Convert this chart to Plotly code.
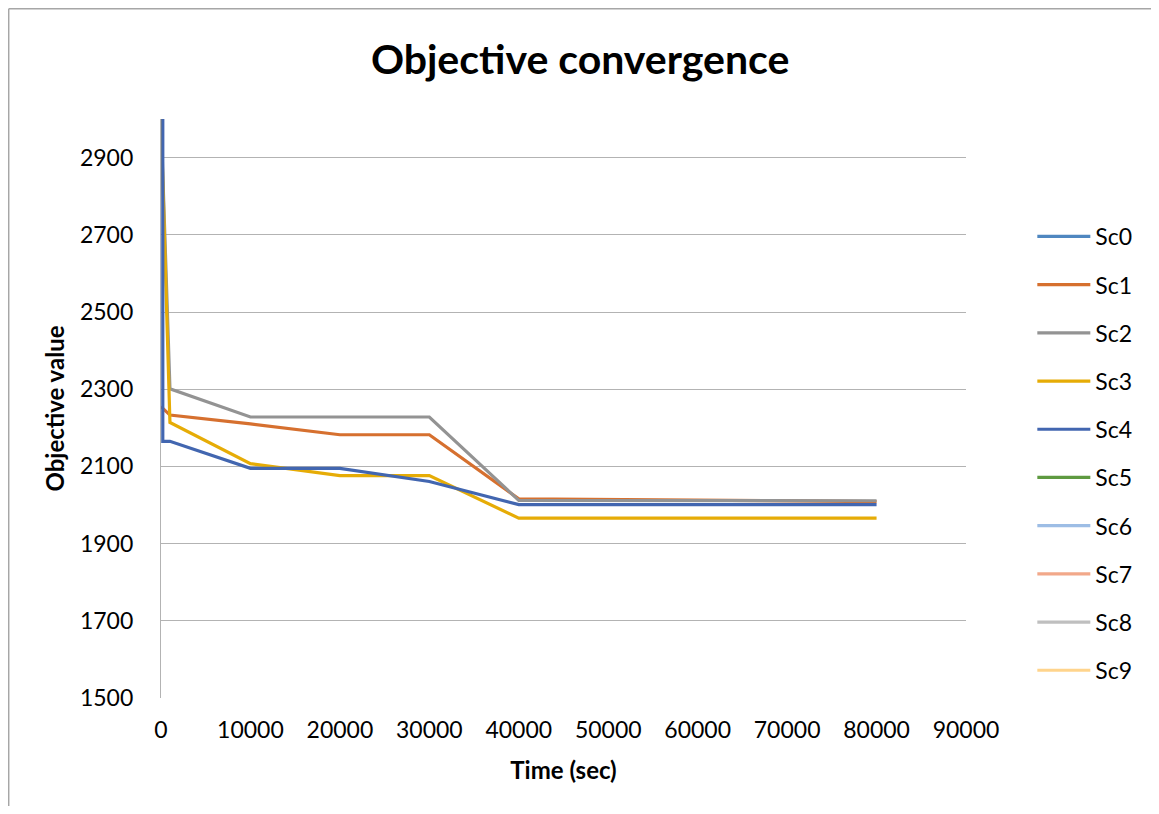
import plotly.graph_objects as go

# ---- data ----
series_names = ["Sc0", "Sc1", "Sc2", "Sc3", "Sc4", "Sc5", "Sc6", "Sc7", "Sc8", "Sc9"]
colors = ["#4f87c0", "#d6702f", "#939393", "#e6ac06", "#4266b0",
          "#5e9a40", "#9dbde5", "#f2a88a", "#bfbfbf", "#ffd48c"]

sc0_x = []
sc0_y = []
sc1_x = [0, 1000, 10000, 20000, 30000, 40000, 80000]
sc1_y = [2255, 2233, 2210, 2182, 2182, 2016, 2009]
sc2_x = [0, 1000, 10000, 20000, 30000, 40000, 80000]
sc2_y = [3000, 2301, 2228, 2228, 2228, 2012, 2011]
sc3_x = [0, 1000, 10000, 20000, 30000, 40000, 80000]
sc3_y = [3000, 2214, 2107, 2076, 2076, 1966, 1966]
sc4_x = [200, 200, 1000, 10000, 20000, 30000, 40000, 80000]
sc4_y = [3000, 2165, 2165, 2095, 2095, 2061, 2001, 2001]
sc5_x, sc5_y = [], []
sc6_x, sc6_y = [], []
sc7_x, sc7_y = [], []
sc8_x, sc8_y = [], []
sc9_x, sc9_y = [], []

xs = [sc0_x, sc1_x, sc2_x, sc3_x, sc4_x, sc5_x, sc6_x, sc7_x, sc8_x, sc9_x]
ys = [sc0_y, sc1_y, sc2_y, sc3_y, sc4_y, sc5_y, sc6_y, sc7_y, sc8_y, sc9_y]

x_ticks = [0, 10000, 20000, 30000, 40000, 50000, 60000, 70000, 80000, 90000]
y_ticks = [1500, 1700, 1900, 2100, 2300, 2500, 2700, 2900]

FONT = "Lato"
W, H = 1143, 798
L, T = 153, 111
PW, PH = 804.7, 579
R = W - L - PW
B = H - T - PH

fig = go.Figure()
for i, name in enumerate(series_names):
    fig.add_trace(go.Scatter(
        x=xs[i] if xs[i] else [None], y=ys[i] if ys[i] else [None],
        mode="lines", name=name, legendgroup=name,
        line=dict(color=colors[i], width=3.2),
    ))

fig.update_layout(
    width=W, height=H,
    paper_bgcolor="white", plot_bgcolor="white",
    margin=dict(l=L, r=R, t=T, b=B, pad=0),
    font=dict(family=FONT, size=23, color="#000000"),
    title=dict(text="<b>Objective convergence</b>", x=(572 - L) / PW, xanchor="center",
               xref="paper", yref="container", y=1 - 52 / H, yanchor="middle",
               font=dict(family=FONT, size=41, color="#000000")),
    xaxis=dict(range=[0, 90000], tickvals=x_ticks, ticktext=[str(v) for v in x_ticks],
               showgrid=False, zeroline=False, showline=False,
               ticks="", tickfont=dict(size=23), ticklabelstandoff=16,
               title=dict(text="<b>Time (sec)</b>", font=dict(size=24), standoff=20)),
    yaxis=dict(range=[1500, 3000], tickvals=y_ticks, ticktext=[str(v) for v in y_ticks],
               showgrid=True, gridcolor="#b3b3b3", gridwidth=1.3,
               zeroline=False, showline=True, linecolor="#b3b3b3", linewidth=1.3,
               ticks="", tickfont=dict(size=23), ticklabelstandoff=22,
               title=dict(text="<b>Objective value</b>", font=dict(size=24), standoff=8)),
    legend=dict(x=(1032 - 8 - L) / PW, xanchor="left", y=(T + PH - (215 - 8)) / PH,
                yanchor="top", yref="paper",
                font=dict(size=23), tracegroupgap=15.3, itemwidth=53,
                bgcolor="rgba(0,0,0,0)"),
    showlegend=True,
)

# outer chart frame (left and top edges visible)
FX = -(L - 0.75) / PW
FY = (T + PH - 0.75) / PH
fig.add_shape(type="line", xref="paper", yref="paper",
              x0=FX, x1=FX, y0=-0.3, y1=FY,
              line=dict(color="#a6a6a6", width=1.5))
fig.add_shape(type="line", xref="paper", yref="paper",
              x0=FX, x1=1.4, y0=FY, y1=FY,
              line=dict(color="#a6a6a6", width=1.5))

fig.write_html("out.html")
